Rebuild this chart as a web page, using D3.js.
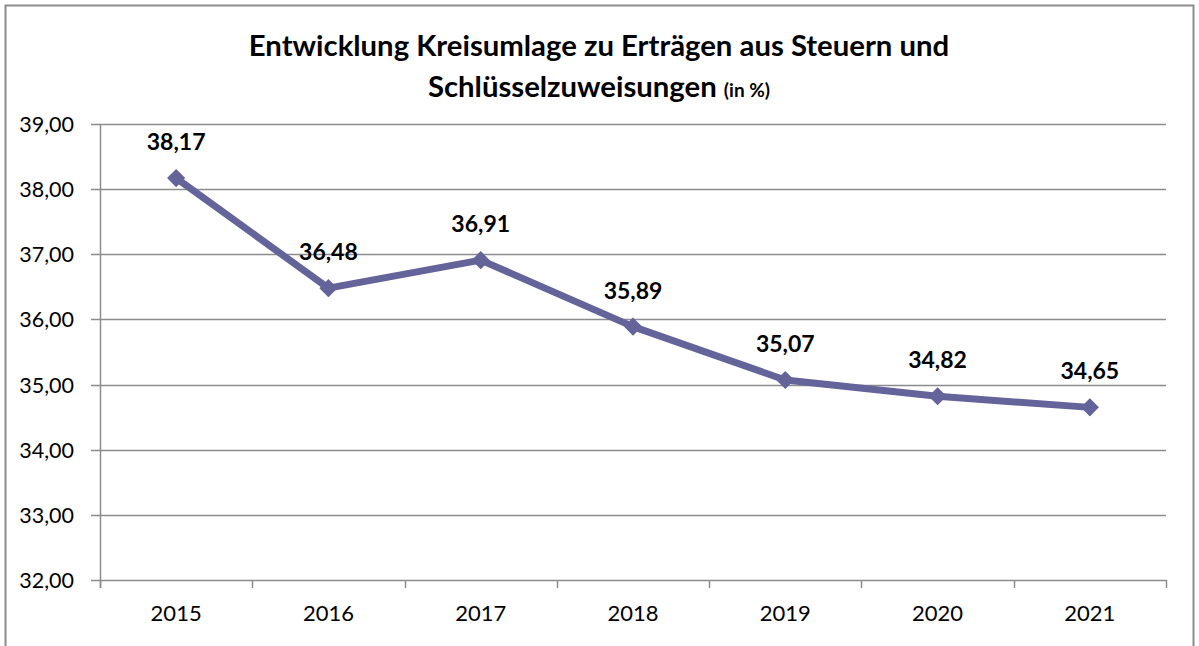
<!DOCTYPE html>
<html>
<head>
<meta charset="utf-8">
<script src="https://cdn.jsdelivr.net/npm/d3@7/dist/d3.min.js"></script>
<style>
  body { margin: 0; background: #fff; }
  svg { display: block; font-family: Lato, "Open Sans", sans-serif; }
</style>
</head>
<body>
<svg id="chart" width="1199" height="646"></svg>
<script>
// Data
const years = ["2015", "2016", "2017", "2018", "2019", "2020", "2021"];
const values = [38.17, 36.48, 36.91, 35.89, 35.07, 34.82, 34.65];
const yTicks = [32, 33, 34, 35, 36, 37, 38, 39];

const W = 1199, H = 646;
const plot = { left: 100, right: 1166, top: 124, bottom: 580 };
const lineColor = "#64649a";
const gridColor = "#8c8c8c";

const fmt = (v) => v.toFixed(2).replace(".", ",");

const svg = d3.select("#chart");

// Outer frame (bottom edge runs off the picture)
svg.append("rect")
  .attr("x", 5.5).attr("y", 5.5)
  .attr("width", 1188).attr("height", H + 20)
  .attr("fill", "#fff")
  .attr("stroke", gridColor)
  .attr("stroke-width", 2);

// Title
const title = svg.append("text")
  .attr("text-anchor", "middle")
  .attr("font-weight", "bold")
  .attr("fill", "#000");
title.append("tspan")
  .attr("x", 599).attr("y", 56)
  .attr("font-size", 29.3)
  .text("Entwicklung Kreisumlage zu Erträgen aus Steuern und");
const t2 = title.append("tspan")
  .attr("x", 599).attr("y", 97)
  .attr("font-size", 29.3);
t2.append("tspan").text("Schlüsselzuweisungen ");
t2.append("tspan").attr("font-size", 19).text("(in %)");

// Scales
const x = d3.scaleBand().domain(years).range([plot.left, plot.right]);
const y = d3.scaleLinear().domain([32, 39]).range([plot.bottom, plot.top]);

// Gridlines
svg.append("g")
  .selectAll("line")
  .data(yTicks)
  .join("line")
  .attr("x1", plot.left - 9)
  .attr("x2", plot.right)
  .attr("y1", (d) => Math.round(y(d)) + 0.5)
  .attr("y2", (d) => Math.round(y(d)) + 0.5)
  .attr("stroke", gridColor)
  .attr("stroke-width", 1.5);

// Y axis line
svg.append("line")
  .attr("x1", plot.left + 0.5).attr("x2", plot.left + 0.5)
  .attr("y1", plot.top).attr("y2", plot.bottom + 8)
  .attr("stroke", gridColor).attr("stroke-width", 1.5);

// Y tick labels
svg.append("g")
  .selectAll("text")
  .data(yTicks)
  .join("text")
  .attr("x", 74)
  .attr("y", (d) => y(d) + 8)
  .attr("text-anchor", "end")
  .attr("font-size", 21.5)
  .attr("fill", "#000")
  .text(fmt);

// X axis ticks at band boundaries
const bounds = years.map((d) => x(d)).concat([plot.right]);
svg.append("g")
  .selectAll("line")
  .data(bounds)
  .join("line")
  .attr("x1", (d) => Math.round(d) + 0.5)
  .attr("x2", (d) => Math.round(d) + 0.5)
  .attr("y1", plot.bottom)
  .attr("y2", plot.bottom + 8)
  .attr("stroke", gridColor)
  .attr("stroke-width", 1.5);

// X labels
svg.append("g")
  .selectAll("text")
  .data(years)
  .join("text")
  .attr("x", (d) => x(d) + x.bandwidth() / 2)
  .attr("y", 621)
  .attr("text-anchor", "middle")
  .attr("font-size", 22)
  .attr("fill", "#000")
  .text((d) => d);

// Series
const pts = years.map((d, i) => ({ year: d, value: values[i] }));
const cx = (d) => x(d.year) + x.bandwidth() / 2;

svg.append("path")
  .datum(pts)
  .attr("d", d3.line().x(cx).y((d) => y(d.value)))
  .attr("fill", "none")
  .attr("stroke", lineColor)
  .attr("stroke-width", 7)
  .attr("stroke-linejoin", "round");

svg.append("g")
  .selectAll("path")
  .data(pts)
  .join("path")
  .attr("transform", (d) => `translate(${cx(d)},${y(d.value)})`)
  .attr("d", d3.symbol(d3.symbolDiamond2, 210)())
  .attr("fill", lineColor);

// Value labels
svg.append("g")
  .selectAll("text")
  .data(pts)
  .join("text")
  .attr("x", cx)
  .attr("y", (d) => y(d.value) - 28)
  .attr("text-anchor", "middle")
  .attr("font-size", 23)
  .attr("font-weight", "bold")
  .attr("fill", "#000")
  .text((d) => fmt(d.value));
</script>
</body>
</html>
